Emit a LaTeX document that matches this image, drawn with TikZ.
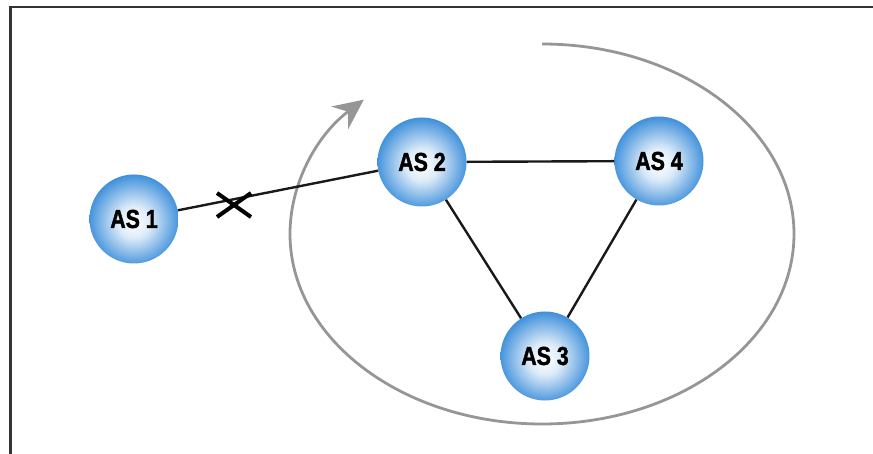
\documentclass[tikz,border=0pt]{standalone}
\usepackage{fontspec}
\setmainfont{Liberation Sans}
\newfontfamily\asfont[FakeStretch=0.82, BoldFeatures={FakeBold=1.5}]{Liberation Sans}
\usetikzlibrary{arrows.meta}
\definecolor{asblue}{RGB}{25,122,212}
\definecolor{asdark}{RGB}{0,82,168}
\definecolor{arcgray}{RGB}{150,150,152}
\pgfdeclareradialshading{asball}{\pgfpoint{0bp}{-2bp}}{color(0bp)=(white); color(9bp)=(white!85!asblue); color(30bp)=(asblue); color(45bp)=(asdark); color(50bp)=(asdark)}
\tikzset{
  asnode/.style={circle, minimum size=89pt, inner sep=0pt, shading=asball,
    font=\asfont\bfseries\fontsize{26}{26}\selectfont},
  link/.style={line width=2.4pt, black!90},
  arcline/.style={line width=2.8pt, arcgray, -{Stealth[length=30pt, width=28pt, inset=10pt]}}
}
\begin{document}
\begin{tikzpicture}[x=1pt, y=-1pt]
    \useasboundingbox (0,0) rectangle (873,454);
    % frame
    \draw[line width=2.2pt, black!80] (10.5,454) -- (10.5,7) -- (873,7);

    % turning arrow round the three
    \draw[arcline] (542,44) arc[start angle=-90, end angle=225, x radius=252, y radius=190];

    \node[asnode] (as1) at (134,219) {AS 1};
    \node[asnode] (as2) at (422,162) {AS 2};
    \node[asnode] (as4) at (659,161) {AS 4};
    \node[asnode] (as3) at (545,356) {AS 3};

    \draw[link] (as1) -- (as2);
    \draw[link] (as2) -- (as4);
    \draw[link] (as2) -- (as3);
    \draw[link] (as4) -- (as3);

    % broken link
    \coordinate (cut) at (234,205);
    \draw[line width=4pt] ([shift={(-17,-12)}]cut) -- ([shift={(17,12)}]cut);
    \draw[line width=4pt] ([shift={(-17,12)}]cut) -- ([shift={(17,-12)}]cut);
\end{tikzpicture}
\end{document}
